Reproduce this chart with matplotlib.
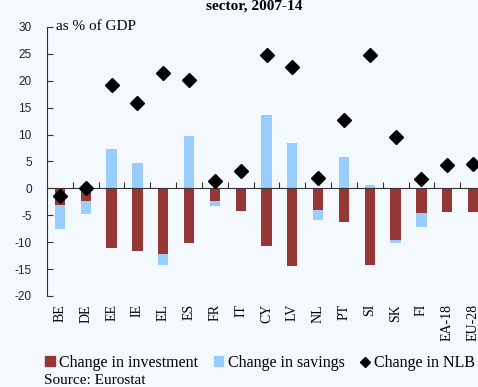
import numpy as np
import matplotlib
matplotlib.use("Agg")
import matplotlib.pyplot as plt
from matplotlib.patches import Patch
from matplotlib.lines import Line2D

countries = ['BE', 'DE', 'EE', 'IE', 'EL', 'ES', 'FR', 'IT', 'CY', 'LV',
             'NL', 'PT', 'SI', 'SK', 'FI', 'EA-18', 'EU-28']
investment = [-3.1, -2.4, -11.0, -11.7, -12.2, -10.2, -2.3, -4.2, -10.7, -14.5,
              -4.0, -6.2, -14.2, -9.6, -4.5, -4.3, -4.3]
savings = [-4.4, -2.4, 7.3, 4.7, -2.1, 9.8, -0.9, 0.0, 13.7, 8.4,
           -1.9, 5.9, 0.7, -0.6, -2.6, 0.0, 0.0]
nlb = [-1.4, 0.0, 19.3, 15.9, 21.4, 20.2, 1.3, 3.3, 24.8, 22.6,
       2.0, 12.8, 24.8, 9.5, 1.8, 4.3, 4.6]
yticks = list(range(-20, 31, 5))

bg = '#F4F9FF'
red = '#953735'
blue = '#99CCFF'
serif = 'Liberation Serif'
sans = 'Liberation Sans'

fig = plt.figure(figsize=(4.78, 3.87), dpi=100, facecolor=bg)
ax = fig.add_axes([47 / 478, 1 - 296 / 387, 439 / 478, 269 / 387])
ax.set_facecolor(bg)

x = np.arange(len(countries))
inv = np.array(investment)
sav = np.array(savings)
# negative savings stack below negative investment
bottom = np.where((sav < 0) & (inv < 0), inv, 0)

ax.bar(x, inv, width=0.4, color=red, zorder=2)
ax.bar(x, sav, width=0.4, bottom=bottom, color=blue, zorder=2)
ax.plot(x, nlb, linestyle='none', marker='D', color='black', ms=7.5, zorder=3)

ax.set_xlim(-0.5, len(countries) - 0.5)
ax.set_ylim(-20, 30)
ax.set_yticks(yticks)
ax.set_yticklabels([str(v) for v in yticks], fontfamily=sans, fontsize=8.5, color='#222222')
ax.tick_params(axis='y', direction='in', length=4, pad=11, color='#333333')

ax.spines['bottom'].set_position(('data', 0))
ax.spines['bottom'].set_color('#333333')
ax.spines['left'].set_color('#333333')
ax.spines['top'].set_visible(False)
ax.spines['right'].set_visible(False)
ax.set_xticks(x[:-1] + 0.5)
ax.set_xticklabels([])
ax.tick_params(axis='x', direction='in', length=4, color='#333333')

for i, c in enumerate(countries):
    ax.text(i, -21.5, c, rotation=90, ha='center', va='top',
            fontfamily=serif, fontsize=10)

fig.text(254 / 478, 1 - 6 / 387, 'sector, 2007-14', ha='center', va='center',
         fontfamily=serif, fontweight='bold', fontsize=11)
fig.text(56 / 478, 1 - 26 / 387, 'as % of GDP', ha='left', va='center',
         fontfamily=serif, fontsize=11)
fig.text(44 / 478, 1 - 374 / 387, 'Source: Eurostat', ha='left', va='top',
         fontfamily=serif, fontsize=11)

handles = [Patch(color=red), Patch(color=blue),
           Line2D([], [], linestyle='none', marker='D', color='black', ms=5)]
labels = ['Change in investment', 'Change in savings', 'Change in NLB']
fig.legend(handles, labels, loc='center left', bbox_to_anchor=(37 / 478, 1 - 363 / 387),
           ncol=3, frameon=False, handlelength=0.6, handleheight=0.6,
           handletextpad=0.3, columnspacing=0.95, borderpad=0,
           prop={'family': serif, 'size': 11.5})

fig.savefig('out.png', dpi=100, facecolor=bg)
